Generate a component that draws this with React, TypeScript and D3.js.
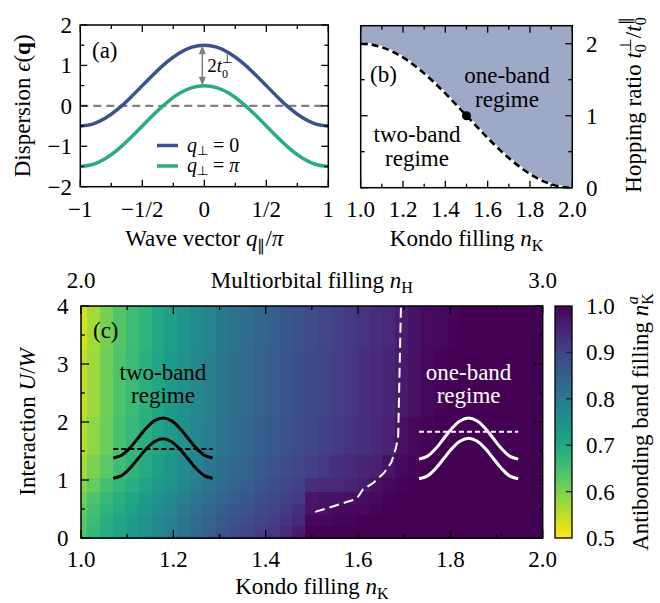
import React from 'react';
import * as d3 from 'd3';

// ---------- Panel (a) data ----------
const qVals = [-1, -0.9, -0.8, -0.7, -0.6, -0.5, -0.4, -0.3, -0.2, -0.1, 0, 0.1, 0.2, 0.3, 0.4, 0.5, 0.6, 0.7, 0.8, 0.9, 1];
const eps0 = [-0.5, -0.451, -0.309, -0.088, 0.191, 0.5, 0.809, 1.088, 1.309, 1.451, 1.5, 1.451, 1.309, 1.088, 0.809, 0.5, 0.191, -0.088, -0.309, -0.451, -0.5];
const epsPi = [-1.5, -1.451, -1.309, -1.088, -0.809, -0.5, -0.191, 0.088, 0.309, 0.451, 0.5, 0.451, 0.309, 0.088, -0.191, -0.5, -0.809, -1.088, -1.309, -1.451, -1.5];
const aXTicks = [-1, -0.5, 0, 0.5, 1];
const aXTickLabels = ['−1', '−1/2', '0', '1/2', '1'];
const aXMinor = [-0.75, -0.25, 0.25, 0.75];
const aYTicks = [-2, -1, 0, 1, 2];
const aYTickLabels = ['−2', '−1', '0', '1', '2'];
const aYMinor = [-1.5, -0.5, 0.5, 1.5];

// ---------- Panel (b) data ----------
const bFilling = [1.0, 1.05, 1.1, 1.15, 1.2, 1.25, 1.3, 1.35, 1.4, 1.45, 1.5, 1.55, 1.6, 1.65, 1.7, 1.75, 1.8, 1.85, 1.9, 1.95, 2.0];
const bRatio = [2.0, 1.988, 1.951, 1.891, 1.809, 1.707, 1.588, 1.454, 1.309, 1.156, 1.0, 0.844, 0.691, 0.546, 0.412, 0.293, 0.191, 0.109, 0.049, 0.012, 0.0];
const bPointN = 1.5;
const bPointR = 1.0;
const bXTicks = [1.0, 1.2, 1.4, 1.6, 1.8, 2.0];
const bXTickLabels = ['1.0', '1.2', '1.4', '1.6', '1.8', '2.0'];
const bXMinor = [1.1, 1.3, 1.5, 1.7, 1.9];
const bYTicks = [0, 1, 2];
const bYMinor = [0.5, 1.5];

// ---------- Panel (c) data ----------
const cFilling = [1.0, 1.028, 1.056, 1.083, 1.111, 1.139, 1.167, 1.194, 1.222, 1.25, 1.278, 1.306, 1.333, 1.361, 1.389, 1.417, 1.444, 1.472, 1.5, 1.528, 1.556, 1.583, 1.611, 1.639, 1.667, 1.694, 1.722, 1.75, 1.778, 1.806, 1.833, 1.861, 1.889, 1.917, 1.944, 1.972, 2.0];
const cInteraction = [0, 0.15, 0.3, 0.5, 0.7, 0.9, 1.2, 1.7, 2.5, 4.0];
const rowU000 = [.64, .67, .695, .715, .735, .755, .775, .795, .815, .835, .855, .875, .89, .90, .915, .925, .945, .97, 1, 1, 1, 1, 1, 1, 1, 1, 1, 1, 1, 1, 1, 1, 1, 1, 1, 1, 1];
const rowU015 = [.635, .665, .69, .71, .73, .75, .77, .79, .81, .83, .85, .87, .885, .895, .91, .92, .94, .96, 1, 1, 1, 1, 1, 1, 1, 1, 1, 1, 1, 1, 1, 1, 1, 1, 1, 1, 1];
const rowU030 = [.63, .66, .685, .705, .725, .745, .765, .785, .805, .825, .845, .86, .875, .885, .90, .91, .925, .945, .99, .99, .995, .995, 1, 1, 1, 1, 1, 1, 1, 1, 1, 1, 1, 1, 1, 1, 1];
const rowU050 = [.62, .65, .675, .695, .715, .735, .755, .775, .795, .815, .835, .85, .865, .875, .89, .90, .915, .93, .975, .98, .985, .99, .99, .995, 1, 1, 1, 1, 1, 1, 1, 1, 1, 1, 1, 1, 1];
const rowU070 = [.61, .64, .665, .685, .705, .725, .745, .765, .785, .805, .825, .84, .855, .865, .88, .89, .905, .915, .97, .975, .975, .98, .985, .99, .995, 1, 1, 1, 1, 1, 1, 1, 1, 1, 1, 1, 1];
const rowU090 = [.59, .62, .65, .67, .69, .71, .73, .75, .77, .79, .81, .83, .845, .855, .87, .88, .895, .905, .935, .94, .945, .95, .96, .98, .99, .995, 1, 1, 1, 1, 1, 1, 1, 1, 1, 1, 1];
const rowU120 = [.57, .60, .63, .655, .675, .695, .72, .74, .76, .78, .80, .82, .835, .845, .86, .87, .885, .895, .91, .92, .93, .94, .95, .955, .975, .99, .995, 1, 1, 1, 1, 1, 1, 1, 1, 1, 1];
const rowU170 = [.555, .585, .615, .645, .665, .685, .71, .73, .75, .77, .79, .81, .825, .835, .85, .86, .875, .885, .895, .905, .915, .925, .935, .945, .955, .98, .99, .995, 1, 1, 1, 1, 1, 1, 1, 1, 1];
const rowU250 = [.545, .575, .61, .64, .66, .68, .705, .725, .745, .765, .785, .805, .82, .83, .845, .855, .87, .88, .89, .90, .91, .92, .93, .94, .95, .965, .98, .99, .995, 1, 1, 1, 1, 1, 1, 1, 1];
const rowU400 = [.535, .57, .605, .635, .655, .675, .70, .72, .74, .76, .78, .80, .815, .825, .84, .85, .865, .875, .885, .895, .905, .915, .925, .935, .945, .96, .975, .985, .99, .995, 1, 1, 1, 1, 1, 1, 1];
const cRows = [rowU000, rowU015, rowU030, rowU050, rowU070, rowU090, rowU120, rowU170, rowU250, rowU400];

const boundaryN = [1.507, 1.54, 1.575, 1.59, 1.60, 1.611, 1.633, 1.656, 1.672, 1.682, 1.687, 1.690, 1.693];
const boundaryU = [0.45, 0.53, 0.62, 0.655, 0.71, 0.84, 0.95, 1.12, 1.30, 1.55, 1.75, 2.9, 4.0];

const cXTicks = [1.0, 1.2, 1.4, 1.6, 1.8, 2.0];
const cXTickLabels = ['1.0', '1.2', '1.4', '1.6', '1.8', '2.0'];
const cXMinor = [1.1, 1.3, 1.5, 1.7, 1.9];
const cYTicks = [0, 1, 2, 3, 4];
const cYMinor = [0.5, 1.5, 2.5, 3.5];
const cbTicks = [0.5, 0.6, 0.7, 0.8, 0.9, 1.0];
const cbTickLabels = ['0.5', '0.6', '0.7', '0.8', '0.9', '1.0'];

// schematic band shape for the insets
const insetShape = [0, 0.067, 0.25, 0.5, 0.75, 0.933, 1, 0.933, 0.75, 0.5, 0.25, 0.067, 0];
const leftInset = { n0: 1.07, n1: 1.285, upBase: 1.38, upPeak: 2.07, loBase: 1.03, loPeak: 1.71, fermi: 1.535 };
const rightInset = { n0: 1.732, n1: 1.947, upBase: 1.36, upPeak: 2.07, loBase: 1.02, loPeak: 1.72, fermi: 1.83 };

const FONT = '"Liberation Serif", "Times New Roman", Times, serif';
const FS = 23;
const SUB = 16;

type TickProps = {
  x: d3.ScaleLinear<number, number>;
  y: d3.ScaleLinear<number, number>;
  xMaj: number[]; xMin: number[]; yMaj: number[]; yMin: number[];
  maj?: number; min?: number;
};

function Ticks({ x, y, xMaj, xMin, yMaj, yMin, maj = 8, min = 4 }: TickProps) {
  const [x0, x1] = x.range();
  const [y0, y1] = y.range();
  const out: JSX.Element[] = [];
  const addX = (v: number, len: number, key: string) => {
    out.push(<line key={key + 'b'} x1={x(v)} x2={x(v)} y1={y0} y2={y0 - len} />);
    out.push(<line key={key + 't'} x1={x(v)} x2={x(v)} y1={y1} y2={y1 + len} />);
  };
  const addY = (v: number, len: number, key: string) => {
    out.push(<line key={key + 'l'} x1={x0} x2={x0 + len} y1={y(v)} y2={y(v)} />);
    out.push(<line key={key + 'r'} x1={x1} x2={x1 - len} y1={y(v)} y2={y(v)} />);
  };
  xMaj.forEach((v, i) => addX(v, maj, 'xM' + i));
  xMin.forEach((v, i) => addX(v, min, 'xm' + i));
  yMaj.forEach((v, i) => addY(v, maj, 'yM' + i));
  yMin.forEach((v, i) => addY(v, min, 'ym' + i));
  return <g stroke="#000" strokeWidth={1.3}>{out}</g>;
}

export default function App() {
  // ---------- scales ----------
  const xA = d3.scaleLinear().domain([-1, 1]).range([80.3, 328.3]);
  const yA = d3.scaleLinear().domain([-2, 2]).range([186.7, 25]);
  const xB = d3.scaleLinear().domain([1, 2]).range([360.7, 572.3]);
  const yB = d3.scaleLinear().domain([0, 2.25]).range([187.7, 25.7]);
  const xC = d3.scaleLinear().domain([1, 2]).range([81, 542.7]);
  const yC = d3.scaleLinear().domain([0, 4]).range([538, 306]);
  const cb = d3.scaleLinear().domain([0.5, 1]).range([538, 306]);
  const color = (v: number) => d3.interpolateViridis(Math.max(0, Math.min(1, (1 - v) / 0.5)));

  const lineA = (vals: number[]) =>
    d3.line<number>().x((_, i) => xA(qVals[i])).y((d) => yA(d)).curve(d3.curveNatural)(vals) || '';

  const bLine = d3.line<number>().x((_, i) => xB(bFilling[i])).y((d) => yB(d)).curve(d3.curveNatural)(bRatio) || '';
  const bArea = d3.area<number>().x((_, i) => xB(bFilling[i])).y0(yB(2.25)).y1((d) => yB(d)).curve(d3.curveNatural)(bRatio) || '';

  // heatmap cells
  const cells: JSX.Element[] = [];
  cRows.forEach((row, j) => {
    const u = cInteraction[j];
    const uLo = j === 0 ? 0 : (cInteraction[j - 1] + u) / 2;
    const uHi = j === cInteraction.length - 1 ? 4 : (u + cInteraction[j + 1]) / 2;
    row.forEach((v, k) => {
      const n = cFilling[k];
      const nLo = k === 0 ? 1 : (cFilling[k - 1] + n) / 2;
      const nHi = k === cFilling.length - 1 ? 2 : (n + cFilling[k + 1]) / 2;
      cells.push(
        <rect key={`c${j}-${k}`} x={xC(nLo)} y={yC(uHi)} width={xC(nHi) - xC(nLo) + 0.6} height={yC(uLo) - yC(uHi) + 0.6} fill={color(v)} />
      );
    });
  });

  const boundaryPath = d3.line<number>().x((d) => xC(d)).y((_, i) => yC(boundaryU[i]))(boundaryN) || '';

  const insetPaths = (ins: typeof leftInset) => {
    const nn = (i: number) => ins.n0 + ((ins.n1 - ins.n0) * i) / (insetShape.length - 1);
    const mk = (base: number, peak: number) =>
      d3.line<number>().x((_, i) => xC(nn(i))).y((s) => yC(base + (peak - base) * s)).curve(d3.curveCatmullRom)(insetShape) || '';
    return { up: mk(ins.upBase, ins.upPeak), lo: mk(ins.loBase, ins.loPeak) };
  };
  const li = insetPaths(leftInset);
  const ri = insetPaths(rightInset);

  const cbStops = d3.range(0, 1.0001, 0.05);

  const arrowX = xA(0) - 2;
  const arrTop = yA(1.5);
  const arrBot = yA(0.5);

  return (
    <svg width={660} height={603} style={{ position: 'absolute', left: 0, top: 0, background: '#fff' }} fontFamily={FONT} fontSize={FS}>
      <defs>
        <linearGradient id="cbgrad" x1="0" y1="0" x2="0" y2="1">
          {cbStops.map((t, i) => (
            <stop key={i} offset={t} stopColor={d3.interpolateViridis(t)} />
          ))}
        </linearGradient>
      </defs>
      <rect x={0} y={0} width={660} height={603} fill="#fff" />

      {/* ================= Panel (a) ================= */}
      <line x1={xA(-1)} x2={xA(1)} y1={yA(0)} y2={yA(0)} stroke="#808080" strokeWidth={2.2} strokeDasharray="8,5" />
      <path d={lineA(eps0)} fill="none" stroke="#3b528b" strokeWidth={3.5} />
      <path d={lineA(epsPi)} fill="none" stroke="#27ad81" strokeWidth={3.5} />
      <g stroke="#808080" fill="#808080">
        <line x1={arrowX} x2={arrowX} y1={arrTop + 6} y2={arrBot - 6} strokeWidth={1.5} />
        <path d={`M${arrowX},${arrTop}L${arrowX - 3.5},${arrTop + 9}L${arrowX + 3.5},${arrTop + 9}Z`} stroke="none" />
        <path d={`M${arrowX},${arrBot}L${arrowX - 3.5},${arrBot - 9}L${arrowX + 3.5},${arrBot - 9}Z`} stroke="none" />
      </g>
      <text x={arrowX + 5} y={yA(1)} dy="0.35em" fontSize={19}>
        2<tspan fontStyle="italic">t</tspan>
        <tspan dy={6} fontSize={12}>0</tspan>
        <tspan dx={-6} dy={-15} fontSize={12}>⊥</tspan>
      </text>
      <text x={92} y={58}>(a)</text>
      {/* legend */}
      <line x1={157} x2={178} y1={145.5} y2={145.5} stroke="#3b528b" strokeWidth={3.5} />
      <line x1={157} x2={178} y1={166} y2={166} stroke="#27ad81" strokeWidth={3.5} />
      <text x={187} y={151.5} fontSize={20}>
        <tspan fontStyle="italic">q</tspan>
        <tspan dy={3} fontSize={13}>⊥</tspan>
        <tspan dy={-3}> = 0</tspan>
      </text>
      <text x={187} y={172} fontSize={20}>
        <tspan fontStyle="italic">q</tspan>
        <tspan dy={3} fontSize={13}>⊥</tspan>
        <tspan dy={-3}> = </tspan>
        <tspan fontStyle="italic">π</tspan>
      </text>
      <Ticks x={xA} y={yA} xMaj={aXTicks} xMin={aXMinor} yMaj={aYTicks} yMin={aYMinor} maj={7} min={4} />
      <rect x={xA(-1)} y={yA(2)} width={xA(1) - xA(-1)} height={yA(-2) - yA(2)} fill="none" stroke="#000" strokeWidth={1.5} />
      {aXTicks.map((t, i) => (
        <text key={'ax' + i} x={xA(t)} y={216.5} textAnchor="middle">{aXTickLabels[i]}</text>
      ))}
      {aYTicks.map((t, i) => (
        <text key={'ay' + i} x={72} y={yA(t)} dy="0.35em" textAnchor="end">{aYTickLabels[i]}</text>
      ))}
      <text x={(xA(-1) + xA(1)) / 2} y={246} textAnchor="middle">
        Wave vector <tspan fontStyle="italic">q</tspan>
        <tspan dy={5} fontSize={SUB}>∥</tspan>
        <tspan dy={-5}>/</tspan>
        <tspan fontStyle="italic">π</tspan>
      </text>
      <text transform={`translate(30,${(yA(2) + yA(-2)) / 2}) rotate(-90)`} textAnchor="middle">
        Dispersion <tspan fontStyle="italic">ϵ</tspan>(<tspan fontWeight="bold">q</tspan>)
      </text>

      {/* ================= Panel (b) ================= */}
      <path d={bArea} fill="#9ea8c7" />
      <path d={bLine} fill="none" stroke="#fff" strokeWidth={2.6} />
      <path d={bLine} fill="none" stroke="#000" strokeWidth={2.6} strokeDasharray="7,4" />
      <circle cx={xB(bPointN)} cy={yB(bPointR)} r={4.5} fill="#000" />
      <text x={370} y={82}>(b)</text>
      <text x={507} y={83} textAnchor="middle">one-band</text>
      <text x={507} y={106.5} textAnchor="middle">regime</text>
      <text x={417} y={142} textAnchor="middle">two-band</text>
      <text x={417} y={165.5} textAnchor="middle">regime</text>
      <Ticks x={xB} y={yB} xMaj={bXTicks} xMin={bXMinor} yMaj={bYTicks} yMin={bYMinor} maj={7} min={4} />
      <rect x={xB(1)} y={yB(2.25)} width={xB(2) - xB(1)} height={yB(0) - yB(2.25)} fill="none" stroke="#000" strokeWidth={1.5} />
      {bXTicks.map((t, i) => (
        <text key={'bx' + i} x={xB(t)} y={216.5} textAnchor="middle">{bXTickLabels[i]}</text>
      ))}
      {bYTicks.map((t, i) => (
        <text key={'by' + i} x={586} y={yB(t)} dy="0.35em">{String(t)}</text>
      ))}
      <text x={(xB(1) + xB(2)) / 2} y={246} textAnchor="middle">
        Kondo filling <tspan fontStyle="italic">n</tspan>
        <tspan dy={5} fontSize={SUB}>K</tspan>
      </text>
      <text transform={`translate(641,105) rotate(-90)`} textAnchor="middle">
        Hopping ratio <tspan fontStyle="italic">t</tspan>
        <tspan dy={5} fontSize={SUB}>0</tspan>
        <tspan dx={-8} dy={-15} fontSize={SUB}>⊥</tspan>
        <tspan dy={10}>/</tspan>
        <tspan fontStyle="italic">t</tspan>
        <tspan dy={5} fontSize={SUB}>0</tspan>
        <tspan dx={-8} dy={-15} fontSize={SUB}>∥</tspan>
      </text>

      {/* ================= Panel (c) ================= */}
      <g shapeRendering="crispEdges">{cells}</g>
      <path d={boundaryPath} fill="none" stroke="#fff" strokeWidth={2} strokeDasharray="10,5" />
      <text x={93} y={338}>(c)</text>
      <text x={xC((leftInset.n0 + leftInset.n1) / 2)} y={380} textAnchor="middle">two-band</text>
      <text x={xC((leftInset.n0 + leftInset.n1) / 2)} y={403} textAnchor="middle">regime</text>
      <path d={li.up} fill="none" stroke="#000" strokeWidth={3} />
      <path d={li.lo} fill="none" stroke="#000" strokeWidth={3} />
      <line x1={xC(leftInset.n0)} x2={xC(leftInset.n1)} y1={yC(leftInset.fermi)} y2={yC(leftInset.fermi)} stroke="#000" strokeWidth={2} strokeDasharray="5,3" />
      <text x={xC((rightInset.n0 + rightInset.n1) / 2)} y={380} textAnchor="middle" fill="#fff">one-band</text>
      <text x={xC((rightInset.n0 + rightInset.n1) / 2)} y={403} textAnchor="middle" fill="#fff">regime</text>
      <path d={ri.up} fill="none" stroke="#fff" strokeWidth={3} />
      <path d={ri.lo} fill="none" stroke="#fff" strokeWidth={3} />
      <line x1={xC(rightInset.n0)} x2={xC(rightInset.n1)} y1={yC(rightInset.fermi)} y2={yC(rightInset.fermi)} stroke="#fff" strokeWidth={2} strokeDasharray="5,3" />
      <Ticks x={xC} y={yC} xMaj={cXTicks} xMin={cXMinor} yMaj={cYTicks} yMin={cYMinor} maj={8} min={4} />
      <rect x={xC(1)} y={yC(4)} width={xC(2) - xC(1)} height={yC(0) - yC(4)} fill="none" stroke="#000" strokeWidth={1.5} />
      {cXTicks.map((t, i) => (
        <text key={'cx' + i} x={xC(t)} y={567} textAnchor="middle">{cXTickLabels[i]}</text>
      ))}
      {cYTicks.map((t, i) => (
        <text key={'cy' + i} x={68.5} y={yC(t)} dy="0.35em" textAnchor="end">{String(t)}</text>
      ))}
      <text x={xC(1)} y={288} textAnchor="middle">2.0</text>
      <text x={xC(2)} y={288} textAnchor="middle">3.0</text>
      <text x={(xC(1) + xC(2)) / 2} y={288} textAnchor="middle">
        Multiorbital filling <tspan fontStyle="italic">n</tspan>
        <tspan dy={5} fontSize={SUB}>H</tspan>
      </text>
      <text x={(xC(1) + xC(2)) / 2} y={594} textAnchor="middle">
        Kondo filling <tspan fontStyle="italic">n</tspan>
        <tspan dy={5} fontSize={SUB}>K</tspan>
      </text>
      <text transform={`translate(35,${(yC(0) + yC(4)) / 2}) rotate(-90)`} textAnchor="middle">
        Interaction <tspan fontStyle="italic">U</tspan>/<tspan fontStyle="italic">W</tspan>
      </text>

      {/* colorbar */}
      <rect x={555} y={cb(1)} width={17} height={cb(0.5) - cb(1)} fill="url(#cbgrad)" />
      <g stroke="#222" strokeWidth={1.3}>
        {cbTicks.slice(1, -1).map((t, i) => (
          <line key={'cbt' + i} x1={572} x2={566} y1={cb(t)} y2={cb(t)} />
        ))}
      </g>
      <rect x={555} y={cb(1)} width={17} height={cb(0.5) - cb(1)} fill="none" stroke="#000" strokeWidth={1.3} />
      {cbTicks.map((t, i) => (
        <text key={'cbl' + i} x={586} y={cb(t)} dy="0.35em">{cbTickLabels[i]}</text>
      ))}
      <text transform={`translate(648,${(cb(0.5) + cb(1)) / 2}) rotate(-90)`} textAnchor="middle">
        Antibonding band filling <tspan fontStyle="italic">n</tspan>
        <tspan dy={5} fontSize={SUB}>K</tspan>
        <tspan dx={-11} dy={-15} fontSize={SUB} fontStyle="italic">a</tspan>
      </text>
    </svg>
  );
}
